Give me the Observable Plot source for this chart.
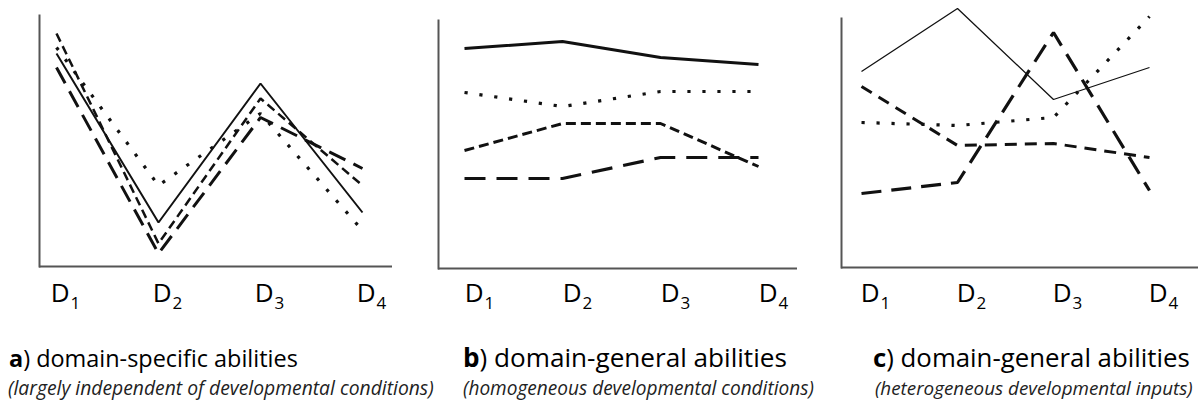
<!DOCTYPE html>
<html>
<head>
<meta charset="utf-8">
<script src="https://cdn.jsdelivr.net/npm/d3@7"></script>
<script src="https://cdn.jsdelivr.net/npm/@observablehq/plot@0.6"></script>
<style>
  body { margin: 0; background: #fff; }
  #root { position: relative; width: 1199px; height: 400px; overflow: hidden; background: #fff; font-family: "Open Sans", sans-serif; color: #000; }
  .panel { position: absolute; top: 0; }
  .cap { position: absolute; white-space: nowrap; line-height: 1; }
  .sub { font-style: italic; color: #222; }
</style>
</head>
<body>
<div id="root"></div>
<script>
// ---- data ----
const categories = ["D1", "D2", "D3", "D4"];
const seriesNames = ["solid", "shortDash", "dotted", "longDash"];

// a) domain-specific abilities
const aSolid = [213, 44, 183, 54];
const aShortDash = [233, 23, 168, 81];
const aDotted = [219, 81, 153, 36];
const aLongDash = [199, 13, 149, 98];

// b) domain-general abilities (homogeneous)
const bSolid = [220, 227, 211, 204];
const bShortDash = [118, 145, 145, 102];
const bDotted = [176, 162, 177, 177];
const bLongDash = [90, 90, 111, 111];

// c) domain-general abilities (heterogeneous)
const cSolid = [196, 259, 168, 200];
const cShortDash = [181, 122, 124, 110];
const cDotted = [145, 142, 150, 251];
const cLongDash = [74, 85, 235, 77];

const panelLetters = ["a", "b", "c"];
const panelTitles = [") domain-specific abilities", ") domain-general abilities", ") domain-general abilities"];
const panelSubtitles = [
  "(largely independent of developmental conditions)",
  "(homogeneous developmental conditions)",
  "(heterogeneous developmental inputs)"
];

// ---- layout / styles ----
const panelData = [
  [aSolid, aShortDash, aDotted, aLongDash],
  [bSolid, bShortDash, bDotted, bLongDash],
  [cSolid, cShortDash, cDotted, cLongDash]
];
const layouts = [
  {left: 0,   width: 400, mL: 39, mR: 8, mT: 15, axisY: 266, range: [55, 362], dx: 9,  pad: 17,
   styles: {solid: {w: 2, d: null}, shortDash: {w: 2.5, d: "9,5"}, dotted: {w: 3.2, d: "3.2,11.5"}, longDash: {w: 3, d: "18,9"}}},
  {left: 400, width: 400, mL: 38, mR: 3, mT: 20, axisY: 268, range: [63, 359], dx: 15, pad: 15,
   styles: {solid: {w: 3, d: null}, shortDash: {w: 3, d: "10,5"}, dotted: {w: 3.2, d: "3.2,11.8"}, longDash: {w: 3.2, d: "21,11"}}},
  {left: 800, width: 399, mL: 41, mR: 1, mT: 18, axisY: 267, range: [61, 349], dx: 14, pad: 16,
   styles: {solid: {w: 1.3, d: null}, shortDash: {w: 3, d: "12,8"}, dotted: {w: 3.2, d: "3.2,11.8"}, longDash: {w: 3.2, d: "20,10"}}}
];
const captionPos = [
  {x: 9,   tw: 289, sx: 8,   sw: 426},
  {x: 463, tw: 324, sx: 463, sw: 351},
  {x: 873, tw: 317, sx: 875, sw: 318}
];
const SVG_H = 320;
const root = document.getElementById("root");
const ns = "http://www.w3.org/2000/svg";

layouts.forEach((L, p) => {
  const rows = [];
  seriesNames.forEach((s, k) => {
    panelData[p][k].forEach((v, i) => rows.push({series: s, cat: categories[i], value: v}));
  });
  const top = L.axisY - L.mT;
  const marks = [
    Plot.ruleY([0], {stroke: "#555", strokeWidth: 2}),
    Plot.frame({anchor: "left", stroke: "#555", strokeWidth: 2}),
    Plot.axisX({tickSize: 0, tickPadding: L.pad, fontSize: 26, dx: L.dx, label: null, fill: "#000"})
  ];
  seriesNames.forEach(s => {
    const st = L.styles[s];
    marks.push(Plot.line(rows.filter(r => r.series === s), {
      x: "cat", y: "value", stroke: "#111", strokeWidth: st.w,
      strokeDasharray: st.d || undefined, strokeLinejoin: "miter", strokeLinecap: "butt"
    }));
  });
  const svg = Plot.plot({
    width: L.width, height: SVG_H,
    marginLeft: L.mL, marginRight: L.mR, marginTop: L.mT, marginBottom: SVG_H - L.axisY,
    style: {fontFamily: "'Open Sans', sans-serif", background: "transparent", overflow: "visible"},
    x: {type: "point", domain: categories, range: L.range, padding: 0, axis: null},
    y: {domain: [0, top], axis: null},
    marks
  });
  // subscript digits for tick labels
  svg.querySelectorAll('g[aria-label="x-axis tick label"] text').forEach(t => {
    const s = t.textContent;
    t.textContent = s[0];
    const ts = document.createElementNS(ns, "tspan");
    ts.setAttribute("font-size", "17");
    ts.setAttribute("dy", "7");
    ts.setAttribute("dx", "1");
    ts.textContent = s.slice(1);
    t.appendChild(ts);
  });
  const div = document.createElement("div");
  div.className = "panel";
  div.style.left = L.left + "px";
  div.appendChild(svg);
  root.appendChild(div);
});

function placeText(el, x, baseline, targetWidth, baseSize) {
  el.style.fontSize = baseSize + "px";
  el.style.left = x + "px";
  el.style.top = "0px";
  root.appendChild(el);
  const w = el.getBoundingClientRect().width;
  const fs = baseSize * targetWidth / w;
  el.style.fontSize = fs + "px";
  const probe = document.createElement("span");
  probe.style.display = "inline-block";
  probe.style.height = "0px";
  probe.style.width = "0px";
  probe.style.verticalAlign = "baseline";
  el.appendChild(probe);
  const bl = probe.getBoundingClientRect().top - root.getBoundingClientRect().top;
  el.removeChild(probe);
  el.style.top = (baseline - bl) + "px";
}

panelLetters.forEach((letter, p) => {
  const C = captionPos[p];
  const t = document.createElement("div");
  t.className = "cap";
  const b = document.createElement("b");
  b.textContent = letter;
  t.appendChild(b);
  t.appendChild(document.createTextNode(panelTitles[p]));
  placeText(t, C.x, 367, C.tw, 22);
  const s = document.createElement("div");
  s.className = "cap sub";
  s.textContent = panelSubtitles[p];
  placeText(s, C.sx, 395, C.sw, 15);
});
</script>
</body>
</html>
